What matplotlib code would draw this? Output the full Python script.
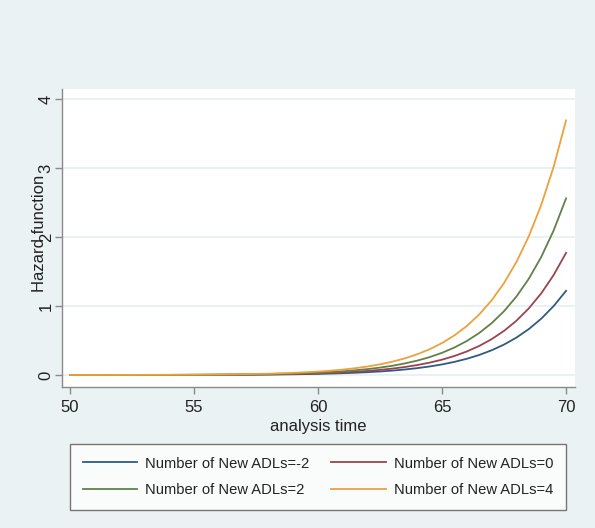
import matplotlib.pyplot as plt

# values
t = [50, 51, 52, 53, 54, 55, 56, 57, 58, 59, 60, 60.5, 61, 61.5, 62, 62.5,
     63, 63.5, 64, 64.5, 65, 65.5, 66, 66.5, 67, 67.5, 68, 68.5, 69, 69.5, 70]
h_m2 = [0.0001, 0.0002, 0.0003, 0.0005, 0.0009, 0.0014, 0.0024, 0.0039, 0.0063,
        0.0102, 0.0163, 0.0206, 0.0259, 0.0326, 0.0408, 0.0511, 0.0639, 0.0798,
        0.0993, 0.1235, 0.1533, 0.1901, 0.2351, 0.2905, 0.3582, 0.4412, 0.5424,
        0.6660, 0.8163, 0.9993, 1.22]
h_0 = [0.0001, 0.0002, 0.0004, 0.0007, 0.0012, 0.0021, 0.0034, 0.0056, 0.0092,
       0.0148, 0.0237, 0.0299, 0.0376, 0.0472, 0.0592, 0.0742, 0.0927, 0.1157,
       0.1440, 0.1791, 0.2223, 0.2756, 0.3410, 0.4212, 0.5195, 0.6398, 0.7866,
       0.9658, 1.1838, 1.4491, 1.77]
h_2 = [0.0002, 0.0003, 0.0006, 0.0010, 0.0018, 0.0030, 0.0049, 0.0081, 0.0133,
       0.0214, 0.0342, 0.0432, 0.0543, 0.0683, 0.0856, 0.1072, 0.1340, 0.1673,
       0.2083, 0.2590, 0.3215, 0.3985, 0.4930, 0.6091, 0.7511, 0.9250, 1.1373,
       1.3963, 1.7116, 2.0952, 2.56]
h_4 = [0.0003, 0.0005, 0.0009, 0.0015, 0.0026, 0.0043, 0.0071, 0.0117, 0.0191,
       0.0308, 0.0493, 0.0622, 0.0783, 0.0984, 0.1234, 0.1545, 0.1931, 0.2410,
       0.3001, 0.3732, 0.4632, 0.5742, 0.7104, 0.8776, 1.0823, 1.3329, 1.6387,
       2.0120, 2.4663, 3.0190, 3.69]
labels = ["Number of New ADLs=-2", "Number of New ADLs=0",
          "Number of New ADLs=2", "Number of New ADLs=4"]
colors = ["#2f5b82", "#9b4350", "#62804a", "#eba23c"]
xticks = [50, 55, 60, 65, 70]
yticks = [0, 1, 2, 3, 4]

plt.rcParams['font.family'] = ['Liberation Sans', 'DejaVu Sans']

fig = plt.figure(figsize=(5.95, 5.28), dpi=100, facecolor="#eaf2f3")
ax = fig.add_axes([62/595, 1-387/528, 513/595, 298/528])
ax.set_facecolor("white")

lines = []
for y, lab, c in zip([h_m2, h_0, h_2, h_4], labels, colors):
    ln, = ax.plot(t, y, color=c, lw=1.3, label=lab)
    lines.append(ln)

ax.set_xlim(49.68, 70.36)
ax.set_ylim(-0.174, 4.145)
ax.set_xticks(xticks)
ax.set_yticks(yticks)
ax.grid(axis='y', color="#e8eff1", lw=1.2)
ax.set_axisbelow(True)

for s in ['top', 'right']:
    ax.spines[s].set_visible(False)
for s in ['left', 'bottom']:
    ax.spines[s].set_color("#8a8a8a")
    ax.spines[s].set_linewidth(1.0)
ax.tick_params(colors="#8a8a8a", length=5, width=1.0, labelcolor="#222222")
ax.tick_params(axis='x', labelsize=12, pad=4)
ax.tick_params(axis='y', labelsize=12, pad=1)
for lb in ax.get_yticklabels():
    lb.set_rotation(90)
    lb.set_va('center')

ax.set_xlabel("analysis time", fontsize=12, color="#222222", labelpad=3)
ax.set_ylabel("Hazard function", fontsize=12, color="#222222")
ax.yaxis.set_label_coords(-0.030, 0.515)

# row-major order like the reference: (-2, 0) on top, (2, 4) below
order = [0, 2, 1, 3]
leg = ax.legend([lines[i] for i in order], [labels[i] for i in order],
                loc='upper center', bbox_to_anchor=(318/595, 1-444/528),
                bbox_transform=fig.transFigure, ncol=2, fontsize=10.6,
                frameon=True, fancybox=False, handlelength=3.7,
                handletextpad=0.55, columnspacing=1.5, labelspacing=0.88,
                borderpad=0.85, borderaxespad=0)
leg.get_frame().set_edgecolor("#555555")
leg.get_frame().set_linewidth(1.0)
for tx in leg.get_texts():
    tx.set_color("#222222")

fig.savefig("out.png", dpi=100, facecolor=fig.get_facecolor())
